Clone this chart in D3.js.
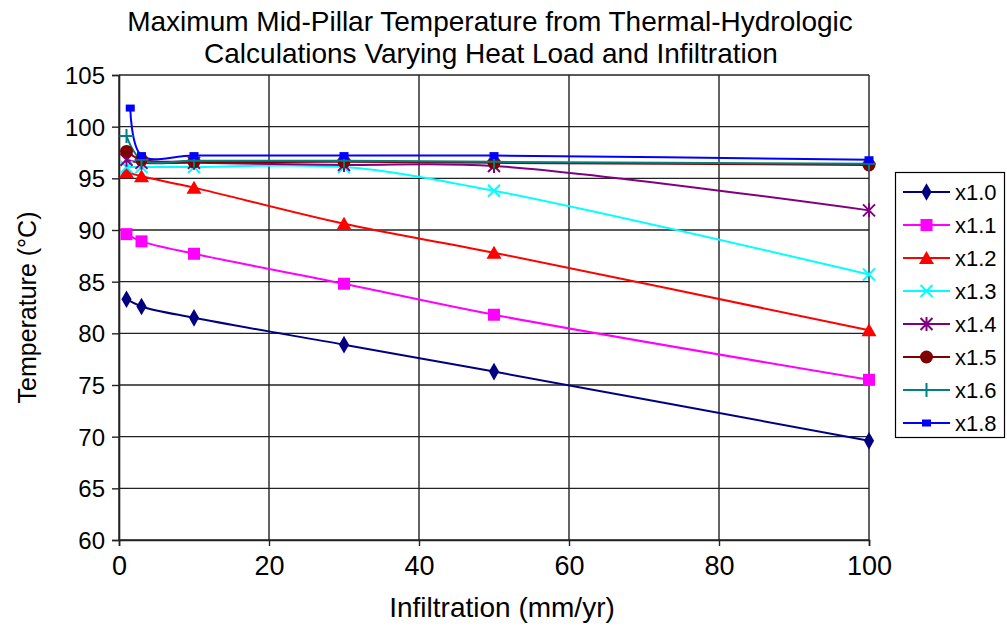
<!DOCTYPE html>
<html>
<head>
<meta charset="utf-8">
<script src="https://cdn.jsdelivr.net/npm/d3@7"></script>
<style>
  body { margin: 0; background: #fff; }
  text { font-family: "Liberation Sans", Arial, sans-serif; fill: #000; }
</style>
</head>
<body>
<script>
// infiltration values (mm/yr) where results were reported
const infiltration = [1, 3, 10, 30, 50, 100]
const infiltrationX18 = [1.5, 3, 10, 30, 50, 100]

const seriesNames = ["x1.0", "x1.1", "x1.2", "x1.3", "x1.4", "x1.5", "x1.6", "x1.8"]
const t10 = [83.3, 82.6, 81.5, 78.9, 76.3, 69.6]
const t11 = [89.6, 88.9, 87.7, 84.8, 81.8, 75.5]
const t12 = [95.6, 95.2, 94.1, 90.6, 87.8, 80.3]
const t13 = [96.1, 96.1, 96.1, 96.1, 93.8, 85.7]
const t14 = [96.8, 96.5, 96.5, 96.3, 96.2, 91.9]
const t15 = [97.6, 96.8, 96.6, 96.6, 96.5, 96.3]
const t16 = [99.1, 96.8, 96.7, 96.7, 96.6, 96.4]
const t18 = [101.8, 97.2, 97.2, 97.2, 97.2, 96.8]

const xTicks = [0, 20, 40, 60, 80, 100]
const yTicks = [60, 65, 70, 75, 80, 85, 90, 95, 100, 105]

const colors = ["#000080", "#ff00ff", "#ff0000", "#00ffff", "#800080", "#800000", "#008080", "#0000ff"]
const markers = ["diamond", "square", "triangle", "cross", "star", "circle", "plus", "dash"]

const series = [t10, t11, t12, t13, t14, t15, t16, t18].map(function(vals, i) {
    const xs = i === 7 ? infiltrationX18 : infiltration
    return {
        name: seriesNames[i],
        color: colors[i],
        marker: markers[i],
        points: vals.map(function(v, j) { return {x: xs[j], y: v} })
    }
})

const W = 1007, H = 627
const plotL = 119, plotR = 869, plotT = 75, plotB = 540

const svg = d3.select("body").append("svg")
    .attr("width", W)
    .attr("height", H)

const x = d3.scaleLinear().domain([0, 100]).range([plotL, plotR])
const y = d3.scaleLinear().domain([60, 105]).range([plotB, plotT])

// grid
svg.append("g").selectAll("line")
    .data(yTicks).enter().append("line")
    .attr("x1", plotL).attr("x2", plotR)
    .attr("y1", d => y(d)).attr("y2", d => y(d))
    .attr("stroke", "#222").attr("stroke-width", 1.4)
svg.append("g").selectAll("line")
    .data(xTicks).enter().append("line")
    .attr("x1", d => x(d)).attr("x2", d => x(d))
    .attr("y1", plotT).attr("y2", plotB)
    .attr("stroke", "#222").attr("stroke-width", 1.4)

// axes
const xAxis = d3.axisBottom(x).tickValues(xTicks).tickSize(6).tickPadding(10)
const yAxis = d3.axisLeft(y).tickValues(yTicks).tickSize(7).tickPadding(7)

const gx = svg.append("g").attr("transform", "translate(0," + plotB + ")").call(xAxis)
const gy = svg.append("g").attr("transform", "translate(" + plotL + ",0)").call(yAxis)
;[gx, gy].forEach(function(g) {
    g.select(".domain").attr("stroke", "#222").attr("stroke-width", 1.6)
    g.selectAll(".tick line").attr("stroke", "#222").attr("stroke-width", 1.4)
    g.selectAll(".tick text")
        .attr("font-family", "Liberation Sans, Arial, sans-serif")
        .attr("fill", "#000")
})
gx.selectAll(".tick text").attr("font-size", 27)
gy.selectAll(".tick text").attr("font-size", 24).attr("dy", "0.35em")

// lines
const line = d3.line()
    .x(d => x(d.x)).y(d => y(d.y))
    .curve(d3.curveCatmullRom.alpha(0.5))

svg.append("g").selectAll("path")
    .data(series).enter().append("path")
    .attr("d", d => line(d.points))
    .attr("fill", "none")
    .attr("stroke", d => d.color)
    .attr("stroke-width", 2)

function drawMarker(g, type, color) {
    if (type === "diamond") {
        g.append("path").attr("d", d3.symbol(d3.symbolDiamond, 90)).attr("fill", color)
    } else if (type === "square") {
        g.append("rect").attr("x", -6).attr("y", -6).attr("width", 12).attr("height", 12).attr("fill", color)
    } else if (type === "triangle") {
        g.append("path").attr("d", "M0,-7L7.5,6L-7.5,6Z").attr("fill", color)
    } else if (type === "cross") {
        g.append("path").attr("d", "M-6,-6L6,6M-6,6L6,-6").attr("stroke", color).attr("stroke-width", 2)
    } else if (type === "star") {
        g.append("path").attr("d", "M-6,-6L6,6M-6,6L6,-6M0,-7L0,7").attr("stroke", color).attr("stroke-width", 2)
    } else if (type === "circle") {
        g.append("circle").attr("r", 6.5).attr("fill", color)
    } else if (type === "plus") {
        g.append("path").attr("d", "M-7,0L7,0M0,-7L0,7").attr("stroke", color).attr("stroke-width", 2)
    } else if (type === "dash") {
        g.append("rect").attr("x", -4.5).attr("y", -3.5).attr("width", 9).attr("height", 7).attr("fill", color)
    }
}

series.forEach(function(s) {
    s.points.forEach(function(p) {
        const g = svg.append("g").attr("transform", "translate(" + x(p.x) + "," + y(p.y) + ")")
        drawMarker(g, s.marker, s.color)
    })
})

// titles
svg.append("text").attr("x", 490).attr("y", 31)
    .attr("text-anchor", "middle").attr("font-size", 28)
    .text("Maximum Mid-Pillar Temperature from Thermal-Hydrologic")
svg.append("text").attr("x", 491).attr("y", 63)
    .attr("text-anchor", "middle").attr("font-size", 28)
    .text("Calculations Varying Heat Load and Infiltration")
svg.append("text").attr("x", 502).attr("y", 617)
    .attr("text-anchor", "middle").attr("font-size", 28)
    .text("Infiltration (mm/yr)")
svg.append("text")
    .attr("transform", "translate(36," + ((plotT + plotB) / 2) + ") rotate(-90)")
    .attr("text-anchor", "middle").attr("font-size", 25)
    .text("Temperature (°C)")

// legend
const legend = svg.append("g")
legend.append("rect")
    .attr("x", 895.5).attr("y", 172.5).attr("width", 109).attr("height", 265)
    .attr("fill", "#fff").attr("stroke", "#000").attr("stroke-width", 1.2)

series.forEach(function(s, i) {
    const ly = 192 + i * 33
    const g = legend.append("g").attr("transform", "translate(0," + ly + ")")
    g.append("line").attr("x1", 903).attr("x2", 950).attr("y1", 0).attr("y2", 0)
        .attr("stroke", s.color).attr("stroke-width", 2)
    drawMarker(g.append("g").attr("transform", "translate(926.5,0)"), s.marker, s.color)
    g.append("text").attr("x", 955).attr("y", 0).attr("dy", "0.35em")
        .attr("font-size", 22).text(s.name)
})
</script>
</body>
</html>
